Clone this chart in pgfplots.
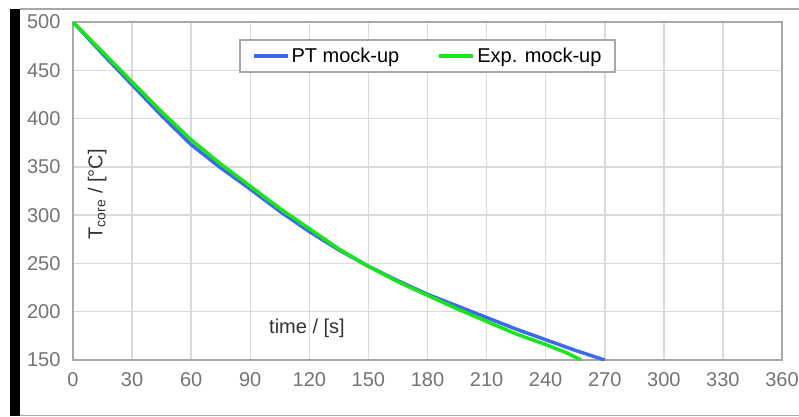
\documentclass[border=0pt]{standalone}
\usepackage{pgfplots}
\pgfplotsset{compat=1.18}
\usepackage{fontspec}
\setmainfont{Liberation Sans}
\definecolor{ptblue}{HTML}{3F68F0}
\definecolor{expgreen}{HTML}{18E618}
\definecolor{gridgray}{HTML}{DADADA}
\definecolor{axgray}{HTML}{A8A8A8}

\begin{document}
\begin{tikzpicture}
\useasboundingbox (-73pt,-56pt) rectangle (726pt,360pt);
\fill[black] (-63pt,-56pt) rectangle (-53pt,351pt);
\draw[axgray, line width=1.5pt] (-53pt,351pt) -- (726pt,351pt);
\draw[axgray, line width=1pt] (-53pt,-55pt) -- (726pt,-55pt);
\begin{axis}[scale only axis, width=709pt, height=338pt,
  xmin=0, xmax=360, ymin=150, ymax=500,
  xtick={0,30,...,360}, ytick={150,200,...,500},
  font=\fontsize{20}{24}\selectfont,
  /pgf/number format/assume math mode=true,
  tick label style={text=black!55},
  yticklabel style={xshift=-9pt}, xticklabel style={yshift=-9pt},
  major tick length=0pt,
  grid=major, major grid style={gridgray, line width=1.5pt},
  axis line style={axgray, line width=2pt},
  xlabel={time / [s]}, ylabel={T\textsubscript{core} / [°C]},
  xlabel style={at={(axis description cs:0.33,0.095)}, anchor=center, text=black!80},
  ylabel style={at={(axis description cs:0.034,0.49)}, anchor=center, rotate=0, text=black!80},
  legend columns=2,
  legend style={at={(0.500,0.899)}, anchor=center, draw=axgray, line width=2pt,
    inner xsep=12pt, inner ysep=6pt,
    /tikz/every even column/.append style={column sep=36pt}},
  legend image code/.code={\draw[#1, line width=4pt] (0pt,0pt) -- (34pt,0pt);},
  every axis plot/.append style={line width=3.5pt}]
\addplot[color=ptblue, mark=none] coordinates {(0,500) (15,467) (30,435) (45,403) (60,373) (75,349) (90,327) (105,304) (120,283) (135,264) (150,247) (165,232) (180,218) (195,206) (210,194) (225,182) (240,171) (255,160) (270,150)};
\addlegendentry{PT mock-up}
\addplot[color=expgreen, mark=none] coordinates {(0,500) (15,469) (30,438) (45,407) (60,378) (75,353) (90,330) (105,307) (120,286) (135,265) (150,247) (165,231) (180,217) (195,203) (210,190) (225,177) (240,166) (250,158) (258,150)};
\addlegendentry{Exp. mock-up}
\end{axis}
\end{tikzpicture}
\end{document}
